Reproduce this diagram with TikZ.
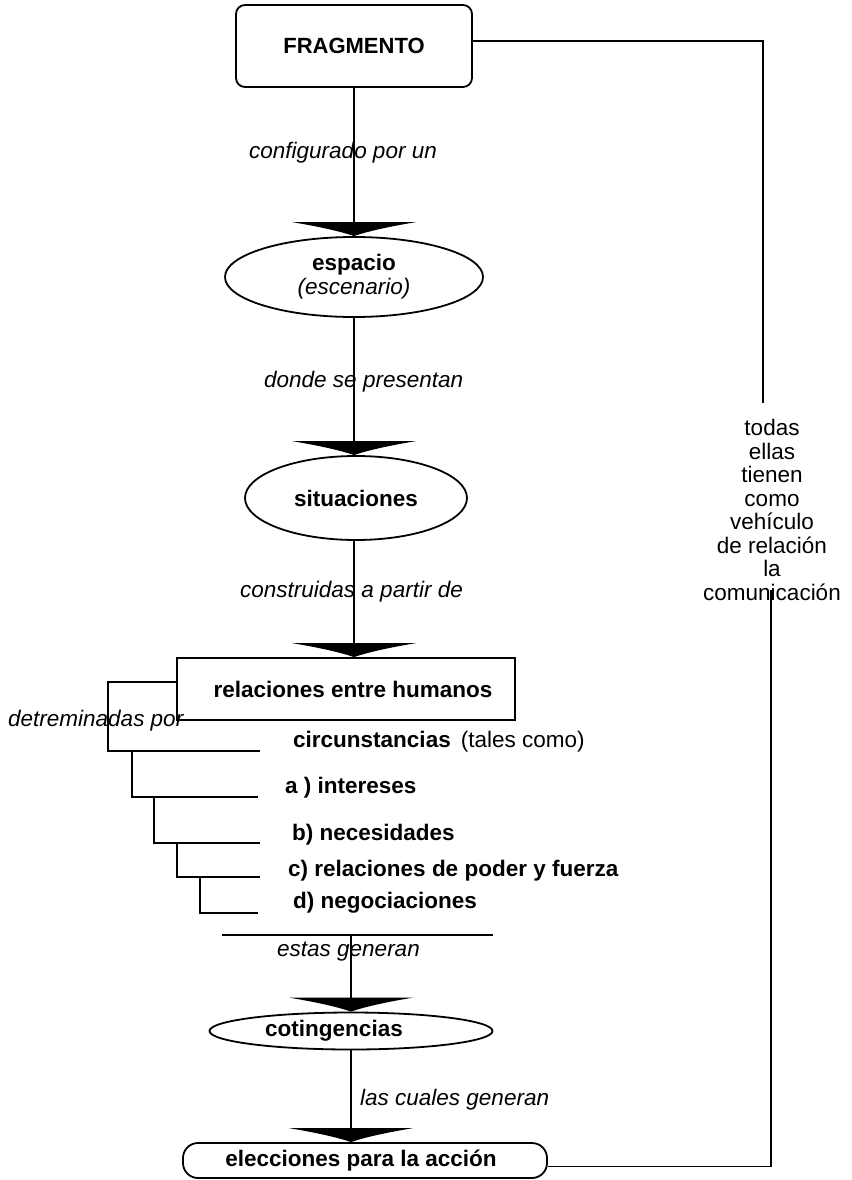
\documentclass[tikz,border=0pt]{standalone}
\usepackage{fontspec}
\setmainfont{Liberation Sans}
\usetikzlibrary{arrows.meta,shapes.geometric,calc}

% wide, flat arrow head with slightly concave flanks
\pgfdeclarearrow{
  name = Fan,
  setup code = {
    \pgfarrowssettipend{0pt}
    \pgfarrowssetlineend{-8pt}
    \pgfarrowssetbackend{-14pt}
    \pgfarrowssetvisualbackend{-14pt}
    \pgfarrowsupperhullpoint{-14pt}{62pt}
    \pgfarrowsupperhullpoint{0pt}{0pt}
  },
  drawing code = {
    \pgfpathmoveto{\pgfpoint{0pt}{0pt}}
    \pgfpathcurveto{\pgfpoint{-5pt}{14pt}}{\pgfpoint{-10pt}{38pt}}{\pgfpoint{-14pt}{62pt}}
    \pgfpathlineto{\pgfpoint{-14pt}{-62pt}}
    \pgfpathcurveto{\pgfpoint{-10pt}{-38pt}}{\pgfpoint{-5pt}{-14pt}}{\pgfpoint{0pt}{0pt}}
    \pgfpathclose
    \pgfusepathqfill
  },
  defaults = {}
}

\begin{document}
\begin{tikzpicture}[x=1pt,y=-1pt,
  line/.style={line width=1.8pt},
  flow/.style={line,-{Fan}},
  bold/.style={font=\fontsize{22.5}{24}\selectfont\bfseries},
  lab/.style={font=\fontsize{22.5}{26}\selectfont\itshape,anchor=west,inner sep=0pt},
  item/.style={font=\fontsize{22.5}{26}\selectfont\bfseries,anchor=west,inner sep=0pt},
  oval/.style={ellipse,draw,line,inner sep=0pt,bold},
  box/.style={draw,line,inner sep=2pt,bold},
]
\useasboundingbox (0,0) rectangle (851,1180);

% main chain
\node[box,rounded corners=9pt,minimum width=236pt,minimum height=82pt,
      font=\fontsize{22}{26}\selectfont\bfseries] (frag) at (354,46) {FRAGMENTO};
\node[oval,minimum width=258pt,minimum height=80pt,align=center] (esp) at (354,277)
  {espacio\\{\mdseries\itshape (escenario)}};
\node[oval,minimum width=222pt,minimum height=84pt] (sit) at (356,498) {situaciones};
\node[box,minimum width=338pt,minimum height=62pt] (rel) at (346,689)
  {\hspace*{14pt}relaciones entre humanos};
\node[oval,minimum width=283pt,minimum height=37pt] (cot) at (351,1031)
  {cotingencias\hspace*{34pt}};
\node[box,rounded corners=15pt,minimum width=364pt,minimum height=35pt] (elec) at (365,1160.5)
  {elecciones para la acción\hspace*{8pt}};

% connector labels
\node[lab] (l1) at (249,153) {configurado por un};
\node[lab] (l2) at (264,382) {donde se presentan};
\node[lab] (l3) at (240,592) {construidas a partir de};
\node[lab] (l4) at (8,721) {detreminadas por};
\node[lab] (l5) at (277,952) {estas generan};
\node[lab] (l6) at (360,1100) {las cuales generan};

% list of circumstances
\node[item] (i0) at (293,742) {circunstancias\hspace{10pt}{\mdseries (tales como)}};
\node[item] (i1) at (285,788) {a ) intereses};
\node[item] (i2) at (292,835) {b) necesidades};
\node[item] (i3) at (288,871) {c) relaciones de poder y fuerza};
\node[item] (i4) at (293,903) {d) negociaciones};

% right-hand note
\node[font=\fontsize{22.5}{23.5}\selectfont,align=center,inner sep=0pt] (note) at (772,510)
  {todas\\ellas\\tienen\\como\\vehículo\\de relación\\la\\comunicación};

% arrows down the chain
\draw[flow] (frag) -- (esp);
\draw[flow] (esp.south) -- (esp.south |- sit.north);
\draw[flow] (esp.south |- sit.south) -- (esp.south |- rel.north);

% stepped bracket under the relations box
\coordinate (k0) at (108,751);
\coordinate (e0) at (260,751);
\coordinate (c1) at (132,751);
\coordinate (e1) at (258,797);
\coordinate (c2) at (154,797);
\coordinate (e2) at (260,843);
\coordinate (c3) at (177,843);
\coordinate (e3) at (260,877);
\coordinate (c4) at (200,877);
\coordinate (e4) at (258,913);
\draw[line] ([yshift=7pt]rel.west) -| (k0) -- (e0);
\draw[line] (c1) |- (e1);
\draw[line] (c2) |- (e2);
\draw[line] (c3) |- (e3);
\draw[line] (c4) |- (e4);

% closing bar and lower chain
\coordinate (barL) at (222,935);
\coordinate (barR) at (493,935);
\coordinate (barM) at (351,935);
\draw[line] (barL) -- (barR);
\draw[flow] (barM) -- (cot);
\draw[flow] (cot.south) -- (cot.south |- elec.north);

% side loop through the note
\coordinate (r1) at (763,403);
\coordinate (r2) at (771,590);
\draw[line] ([yshift=5pt]frag.east) -| (r1);
\draw[line] ([yshift=-6pt]elec.east) -| (r2);
\end{tikzpicture}
\end{document}
